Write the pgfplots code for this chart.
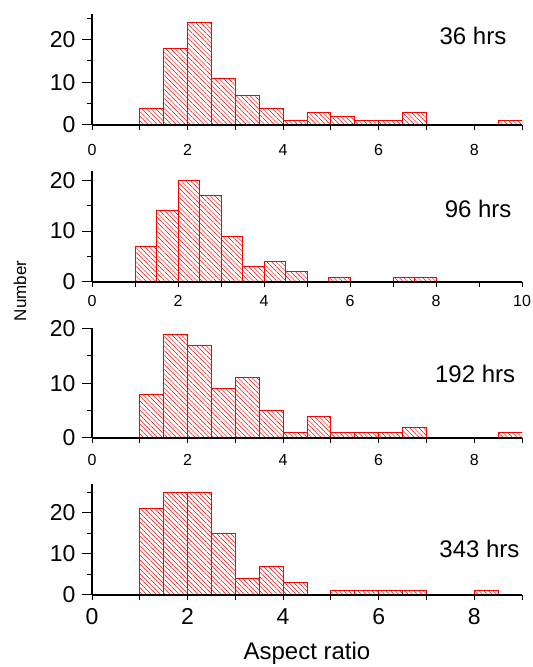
\documentclass[border=0pt]{standalone}
\usepackage{pgfplots}
\pgfplotsset{compat=1.18}
\usepackage{fontspec}
\setmainfont{Liberation Sans}
\usetikzlibrary{patterns.meta}

\pgfplotsset{
  panel/.style 2 args={
    at={(92bp,#1)}, anchor=south west,
    scale only axis, width=430bp, height=#2,
    xmin=0, ymin=0,
    axis lines=left, axis line style={-, line width=1.1bp},
    axis on top,
    tick align=outside, major tick length=10bp, minor tick length=5bp,
    every tick/.style={black, line width=1bp},
    major x tick style={draw=none},
    ytick={0,10,20}, minor ytick={5,15,25},
    /pgf/number format/assume math mode=true,
    yticklabel style={font=\fontsize{23bp}{27bp}\selectfont, xshift=-3bp},
    xticklabel style={font=\fontsize{16bp}{19bp}\selectfont},
    ybar, bar width=0.5, bar shift=0pt,
  },
  hist/.style={draw=red, line width=0.8bp,
    pattern={Lines[angle=-45, distance=3.3bp, line width=0.5bp]}, pattern color=red},
}

\begin{document}
\begin{tikzpicture}
\useasboundingbox (0,0) rectangle (533bp,667bp);

% Panel 1: 36 hrs
\begin{axis}[panel={542bp}{111bp}, xmax=9, ymax=26,
  xtick={0,2,4,6,8}, minor xtick={0,1,...,9},
  xticklabel style={yshift=-6bp}]
\addplot[hist] coordinates {(1.25,4) (1.75,18) (2.25,24) (2.75,11) (3.25,7) (3.75,4)
  (4.25,1) (4.75,3) (5.25,2) (5.75,1) (6.25,1) (6.75,3) (8.75,1)};
\node[font=\fontsize{24bp}{28bp}\selectfont] at (rel axis cs:0.886,0.806) {36 hrs};
\end{axis}

% Panel 2: 96 hrs
\begin{axis}[panel={385bp}{111bp}, xmax=10, ymax=21.8,
  xtick={0,2,4,6,8,10}, minor xtick={0,1,...,10}]
\addplot[hist] coordinates {(1.25,7) (1.75,14) (2.25,20) (2.75,17) (3.25,9) (3.75,3)
  (4.25,4) (4.75,2) (5.75,1) (7.25,1) (7.75,1)};
\node[font=\fontsize{24bp}{28bp}\selectfont] at (rel axis cs:0.898,0.658) {96 hrs};
\end{axis}

% Panel 3: 192 hrs
\begin{axis}[panel={229bp}{110bp}, xmax=9, ymax=20.1,
  xtick={0,2,4,6,8}, minor xtick={0,1,...,9},
  xticklabel style={yshift=-3bp}]
\addplot[hist] coordinates {(1.25,8) (1.75,19) (2.25,17) (2.75,9) (3.25,11) (3.75,5)
  (4.25,1) (4.75,4) (5.25,1) (5.75,1) (6.25,1) (6.75,2) (8.75,1)};
\node[font=\fontsize{24bp}{28bp}\selectfont] at (rel axis cs:0.891,0.58) {192 hrs};
\end{axis}

% Panel 4: 343 hrs
\begin{axis}[panel={72bp}{111bp}, xmax=9, ymax=27,
  xtick={0,2,4,6,8}, minor xtick={0,1,...,9},
  xticklabel style={font=\fontsize{23bp}{27bp}\selectfont}]
\addplot[hist] coordinates {(1.25,21) (1.75,25) (2.25,25) (2.75,15) (3.25,4) (3.75,7)
  (4.25,3) (5.25,1) (5.75,1) (6.25,1) (6.75,1) (8.25,1)};
\node[font=\fontsize{24bp}{28bp}\selectfont] at (rel axis cs:0.901,0.419) {343 hrs};
\end{axis}

\node[rotate=90, font=\fontsize{17bp}{20bp}\selectfont] at (20bp,376bp) {Number};
\node[anchor=base, font=\fontsize{24bp}{28bp}\selectfont] at (307bp,8bp) {Aspect ratio};
\end{tikzpicture}
\end{document}
